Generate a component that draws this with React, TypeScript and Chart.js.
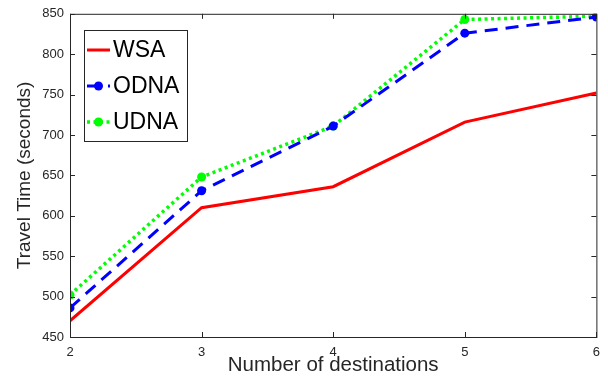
import React, { useEffect, useRef } from "react";
import { Chart, registerables } from "chart.js";

Chart.register(...registerables);

const destinations = [2, 3, 4, 5, 6];
const wsa = [470, 610, 636, 716, 752];
const odna = [486, 631, 711, 826, 846];
const udna = [502, 648, 711, 843, 847];
const yTicks = [450, 500, 550, 600, 650, 700, 750, 800, 850];

const FONT = "'Liberation Sans', Arial, Helvetica, sans-serif";
const AXIS = "#262626";

const framePlugin = {
  id: "frame",
  afterDraw(chart: any) {
    const { ctx, chartArea } = chart;
    const { left, right, top, bottom } = chartArea;
    const xs = chart.scales.x;
    const ys = chart.scales.y;
    ctx.save();
    ctx.strokeStyle = AXIS;
    ctx.lineWidth = 1;
    ctx.strokeRect(left + 0.5, top + 0.5, right - left, bottom - top);
    const tl = 5;
    ctx.beginPath();
    destinations.forEach((v) => {
      const px = Math.round(xs.getPixelForValue(v)) + 0.5;
      ctx.moveTo(px, bottom);
      ctx.lineTo(px, bottom - tl);
      ctx.moveTo(px, top);
      ctx.lineTo(px, top + tl);
    });
    yTicks.forEach((v) => {
      const py = Math.round(ys.getPixelForValue(v)) + 0.5;
      ctx.moveTo(left, py);
      ctx.lineTo(left + tl, py);
      ctx.moveTo(right, py);
      ctx.lineTo(right - tl, py);
    });
    ctx.stroke();

    // legend
    const lx = 84, ly = 30, lw = 103, lh = 111;
    ctx.fillStyle = "#ffffff";
    ctx.fillRect(lx, ly, lw, lh);
    ctx.strokeStyle = AXIS;
    ctx.strokeRect(lx + 0.5, ly + 0.5, lw, lh);
    const items = chart.data.datasets;
    const rows = [50, 86, 122];
    items.forEach((ds: any, i: number) => {
      const y = rows[i];
      ctx.strokeStyle = ds.borderColor;
      ctx.lineWidth = ds.borderWidth;
      ctx.setLineDash(ds.borderDash || []);
      ctx.beginPath();
      ctx.moveTo(87, y);
      ctx.lineTo(110, y);
      ctx.stroke();
      ctx.setLineDash([]);
      if (ds.pointRadius > 0) {
        ctx.fillStyle = ds.pointBackgroundColor;
        ctx.beginPath();
        ctx.arc(98.5, y, ds.pointRadius, 0, Math.PI * 2);
        ctx.fill();
      }
      ctx.fillStyle = "#000000";
      ctx.font = `23px ${FONT}`;
      ctx.textBaseline = "middle";
      ctx.textAlign = "left";
      ctx.fillText(ds.label, 113, y + 1);
    });
    ctx.restore();
  },
};

export default function App() {
  const ref = useRef<HTMLCanvasElement>(null);
  useEffect(() => {
    document.body.style.margin = "0";
    const chart = new Chart(ref.current!, {
      type: "line",
      data: {
        datasets: [
          {
            label: "WSA",
            data: destinations.map((x, i) => ({ x, y: wsa[i] })),
            borderColor: "#ff0000",
            backgroundColor: "#ff0000",
            borderWidth: 3,
            pointRadius: 0,
            pointBackgroundColor: "#ff0000",
          },
          {
            label: "ODNA",
            data: destinations.map((x, i) => ({ x, y: odna[i] })),
            borderColor: "#0000ff",
            backgroundColor: "#0000ff",
            borderWidth: 3,
            borderDash: [13, 8],
            pointRadius: 4.5,
            pointBorderWidth: 0,
            pointBackgroundColor: "#0000ff",
          },
          {
            label: "UDNA",
            data: destinations.map((x, i) => ({ x, y: udna[i] })),
            borderColor: "#00ff00",
            backgroundColor: "#00ff00",
            borderWidth: 3.5,
            borderDash: [3, 3.5],
            pointRadius: 4.5,
            pointBorderWidth: 0,
            pointBackgroundColor: "#00ff00",
          },
        ],
      },
      options: {
        animation: false,
        responsive: false,
        maintainAspectRatio: false,
        layout: { padding: { top: 12, right: 11, left: 0, bottom: 0 } },
        plugins: { legend: { display: false }, tooltip: { enabled: false } },
        scales: {
          x: {
            type: "linear",
            min: 2,
            max: 6,
            afterBuildTicks: (s: any) => {
              s.ticks = destinations.map((v) => ({ value: v }));
            },
            afterFit: (s: any) => {
              s.height = 42;
            },
            grid: { display: false, drawTicks: false },
            border: { display: false },
            ticks: {
              color: AXIS,
              font: { family: FONT, size: 13 },
              padding: 8,
              maxRotation: 0,
            },
            title: {
              display: true,
              text: "Number of destinations",
              color: AXIS,
              font: { family: FONT, size: 20.5 },
              padding: { top: 0, bottom: 1 },
            },
          },
          y: {
            min: 450,
            max: 850,
            afterBuildTicks: (s: any) => {
              s.ticks = yTicks.map((v) => ({ value: v }));
            },
            afterFit: (s: any) => {
              s.width = 70;
            },
            grid: { display: false, drawTicks: false },
            border: { display: false },
            ticks: {
              color: AXIS,
              font: { family: FONT, size: 13 },
              padding: 6,
            },
            title: {
              display: true,
              text: "Travel Time (seconds)",
              color: AXIS,
              font: { family: FONT, size: 19 },
              padding: { top: 13, bottom: 0 },
            },
          },
        },
      },
      plugins: [framePlugin],
    });
    return () => chart.destroy();
  }, []);
  return (
    <div style={{ position: "absolute", left: 0, top: 0, width: 608, height: 379 }}>
      <canvas ref={ref} width={608} height={379} />
    </div>
  );
}
